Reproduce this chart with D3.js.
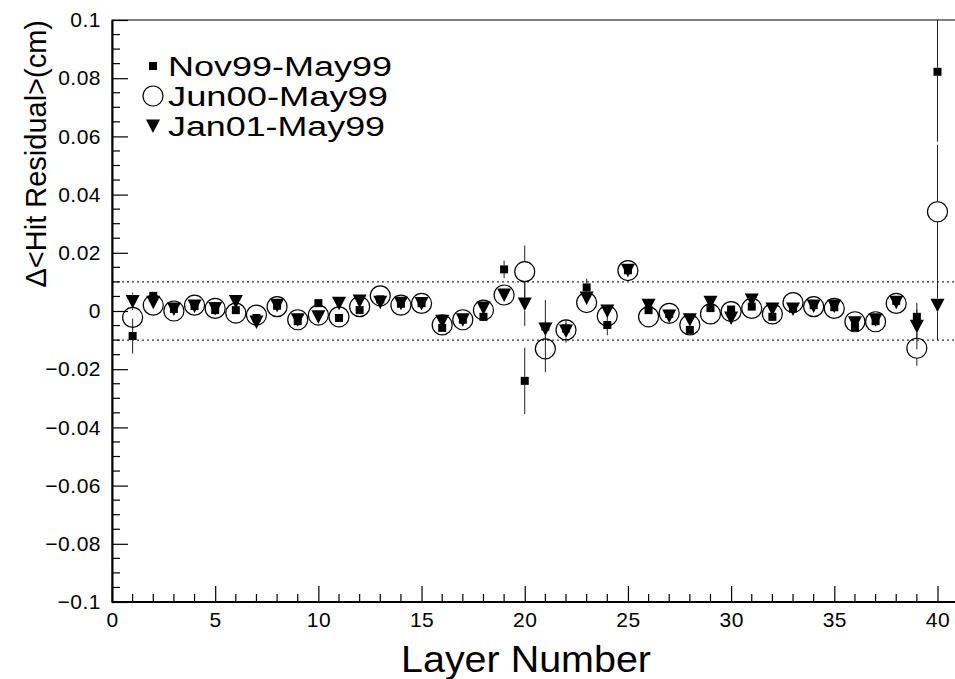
<!DOCTYPE html>
<html>
<head>
<meta charset="utf-8">
<script src="https://cdn.jsdelivr.net/npm/d3@7"></script>
<style>
  html, body { margin: 0; padding: 0; background: #fff; }
  svg { display: block; }
  text { font-family: "Liberation Sans", Arial, Helvetica, sans-serif; fill: #000; }
</style>
</head>
<body>
<svg id="chart" width="955" height="679"></svg>
<script>
// ---------------- data ----------------
const layers = d3.range(1, 41);

const nov99 = [-0.0086, 0.0052, 0.0007, 0.0017, 0.0003, 0.0003, -0.0024, 0.0018, -0.0035, 0.0027,
               -0.0024, 0.0003, 0.0040, 0.0025, 0.0027, -0.0058, -0.0030, -0.0020, 0.0143, -0.0240,
               -0.0054, -0.0060, 0.0081, -0.0048, 0.0140, 0.0003, -0.0010, -0.0065, 0.0010, 0.0005,
               0.0015, -0.0020, 0.0008, 0.0020, 0.0013, -0.0055, -0.0035, 0.0035, -0.0020, 0.0822];
const nov99Err = [0.006, 0.001, 0.001, 0.001, 0.001, 0.001, 0.001, 0.001, 0.001, 0.001,
                  0.001, 0.001, 0.001, 0.001, 0.001, 0.001, 0.001, 0.001, 0.003, 0.0114,
                  0.002, 0.002, 0.003, 0.0035, 0.001, 0.001, 0.001, 0.001, 0.001, 0.001,
                  0.001, 0.001, 0.001, 0.001, 0.001, 0.001, 0.001, 0.001, 0.0025, 0.024];

const jun00 = [-0.0022, 0.0020, 0.0000, 0.0020, 0.0009, -0.0007, -0.0014, 0.0015, -0.0030, -0.0014,
               -0.0020, 0.0015, 0.0052, 0.0020, 0.0026, -0.0048, -0.0030, 0.0003, 0.0055, 0.0135,
               -0.0130, -0.0065, 0.0029, -0.0017, 0.0139, -0.0020, -0.0008, -0.0048, -0.0010, -0.0002,
               0.0009, -0.0010, 0.0029, 0.0015, 0.0009, -0.0037, -0.0037, 0.0026, -0.0128, 0.0341];
const jun00Err = [0.004, 0.001, 0.001, 0.001, 0.001, 0.001, 0.001, 0.001, 0.001, 0.001,
                  0.001, 0.001, 0.001, 0.001, 0.001, 0.001, 0.001, 0.001, 0.001, 0.009,
                  0.008, 0.002, 0.001, 0.001, 0.001, 0.001, 0.001, 0.001, 0.001, 0.001,
                  0.001, 0.001, 0.001, 0.001, 0.001, 0.001, 0.001, 0.001, 0.006, 0.023];

const jan01 = [0.0033, 0.0030, 0.0007, 0.0017, 0.0009, 0.0033, -0.0038, 0.0020, -0.0030, -0.0020,
               0.0027, 0.0034, 0.0030, 0.0027, 0.0026, -0.0035, -0.0030, 0.0010, 0.0055, 0.0024,
               -0.0062, -0.0069, 0.0045, 0.0000, 0.0140, 0.0020, -0.0017, -0.0030, 0.0030, -0.0024,
               0.0038, 0.0007, 0.0007, 0.0017, 0.0017, -0.0040, -0.0030, 0.0030, -0.0052, 0.0020];
const jan01Err = [0.003, 0.001, 0.001, 0.001, 0.001, 0.001, 0.001, 0.001, 0.001, 0.001,
                  0.001, 0.001, 0.001, 0.001, 0.001, 0.001, 0.001, 0.001, 0.001, 0.0075,
                  0.010, 0.004, 0.001, 0.001, 0.001, 0.001, 0.001, 0.001, 0.001, 0.001,
                  0.001, 0.001, 0.001, 0.001, 0.001, 0.001, 0.001, 0.001, 0.008, 0.012];

const legendLabels = ["Nov99-May99", "Jun00-May99", "Jan01-May99"];
const xTickValues = [0, 5, 10, 15, 20, 25, 30, 35, 40];
const yTickValues = [-0.1, -0.08, -0.06, -0.04, -0.02, 0, 0.02, 0.04, 0.06, 0.08, 0.1];
const bandLevels = [0.01, -0.01];
const xTitle = "Layer Number";
const yTitle = "\u0394<Hit Residual>(cm)";

// ---------------- layout ----------------
const svg = d3.select("#chart");
const L = 112, T = 20, B = 602, R = 954;
const x = d3.scaleLinear().domain([0, 40.8]).range([L, R]);
const y = d3.scaleLinear().domain([-0.1, 0.1]).range([B, T]);

// frame (top line; right side off-canvas)
svg.append("rect").attr("x", L).attr("y", T).attr("width", 850).attr("height", B - T)
  .attr("fill", "none").attr("stroke", "#000").attr("stroke-width", 1);

// dotted band lines
svg.selectAll("line.band").data(bandLevels).enter().append("line")
  .attr("x1", L).attr("x2", 955).attr("y1", d => y(d)).attr("y2", d => y(d))
  .attr("stroke", "#000").attr("stroke-width", 1).attr("stroke-dasharray", "2,3");

const fmtY = d => {
  if (Math.abs(d) < 1e-9) return "0";
  const s = d3.format("")(+d.toFixed(2));
  return s.replace("-", "\u2212");
};

// y axis
const yAxis = svg.append("g").attr("transform", `translate(${L},0)`)
  .call(d3.axisLeft(y).tickValues(yTickValues).tickSizeInner(-16).tickSizeOuter(0)
        .tickPadding(11).tickFormat(fmtY));
yAxis.select(".domain").attr("stroke-width", 2);
yAxis.selectAll(".tick line").attr("stroke-width", 1.2);
yAxis.selectAll(".tick text").attr("font-size", 21).attr("fill", "#222")
  .attr("letter-spacing", 0.5).attr("font-family", "Liberation Sans, Arial, sans-serif");
const yMinor = d3.range(-0.1, 0.1001, 0.005).filter(v => Math.abs(Math.round(v / 0.02) * 0.02 - v) > 1e-6);
svg.append("g").selectAll("line").data(yMinor).enter().append("line")
  .attr("x1", L).attr("x2", L + 8).attr("y1", d => y(d)).attr("y2", d => y(d))
  .attr("stroke", "#000").attr("stroke-width", 1.2);

// x axis
const xAxis = svg.append("g").attr("transform", `translate(0,${B})`)
  .call(d3.axisBottom(x).tickValues(xTickValues).tickSizeInner(-16).tickSizeOuter(0)
        .tickPadding(10).tickFormat(d3.format("d")));
xAxis.select(".domain").attr("stroke-width", 2).attr("d", `M${L},0H955`);
xAxis.selectAll(".tick line").attr("stroke-width", 1.2);
xAxis.selectAll(".tick text").attr("font-size", 21).attr("fill", "#222")
  .attr("letter-spacing", 0.5).attr("font-family", "Liberation Sans, Arial, sans-serif");
const xMinor = d3.range(0, 41, 1).filter(v => v % 5 !== 0);
svg.append("g").selectAll("line").data(xMinor).enter().append("line")
  .attr("x1", d => x(d)).attr("x2", d => x(d)).attr("y1", B).attr("y2", B - 8)
  .attr("stroke", "#000").attr("stroke-width", 1.2);

// titles
svg.append("text").attr("x", 651).attr("y", 672).attr("text-anchor", "end")
  .attr("font-size", 37).attr("textLength", 250).attr("lengthAdjust", "spacingAndGlyphs").text(xTitle);
svg.append("text").attr("transform", "translate(46,20) rotate(-90)").attr("text-anchor", "end")
  .attr("font-size", 29).text(yTitle);

// ---------------- data marks ----------------
const series = [
  { vals: nov99, errs: nov99Err, shape: "square", half: 4 },
  { vals: jun00, errs: jun00Err, shape: "circle", half: 10 },
  { vals: jan01, errs: jan01Err, shape: "triangle", half: 7 }
];

const clampY = v => Math.max(T, Math.min(B, v));
const errG = svg.append("g").attr("stroke", "#222").attr("stroke-width", 1);
series.forEach(s => {
  layers.forEach((l, i) => {
    const cx = x(l), cy = y(s.vals[i]);
    const top = clampY(y(s.vals[i] + s.errs[i])), bot = clampY(y(s.vals[i] - s.errs[i]));
    if (cy - s.half > top) errG.append("line").attr("x1", cx).attr("x2", cx).attr("y1", top).attr("y2", cy - s.half);
    if (cy + s.half < bot) errG.append("line").attr("x1", cx).attr("x2", cx).attr("y1", cy + s.half).attr("y2", bot);
  });
});

function drawMarker(g, shape, cx, cy) {
  if (shape === "square") {
    g.append("rect").attr("x", cx - 4).attr("y", cy - 4).attr("width", 8).attr("height", 8).attr("fill", "#000");
  } else if (shape === "circle") {
    g.append("circle").attr("cx", cx).attr("cy", cy).attr("r", 10)
      .attr("fill", "none").attr("stroke", "#000").attr("stroke-width", 1.2);
  } else {
    g.append("path").attr("d", `M${cx - 7},${cy - 6.5}L${cx + 7},${cy - 6.5}L${cx},${cy + 7}Z`).attr("fill", "#000");
  }
}

series.forEach(s => {
  const g = svg.append("g");
  layers.forEach((l, i) => drawMarker(g, s.shape, x(l), y(s.vals[i])));
});

// ---------------- legend ----------------
const legY = [66, 96, 126];
const legG = svg.append("g");
series.forEach((s, i) => {
  drawMarker(legG, s.shape, 153, legY[i]);
  legG.append("text").attr("x", 168).attr("y", legY[i] + 10).attr("font-size", 27)
    .attr("textLength", [224, 220, 217][i]).attr("lengthAdjust", "spacingAndGlyphs")
    .text(legendLabels[i]);
});
</script>
</body>
</html>
